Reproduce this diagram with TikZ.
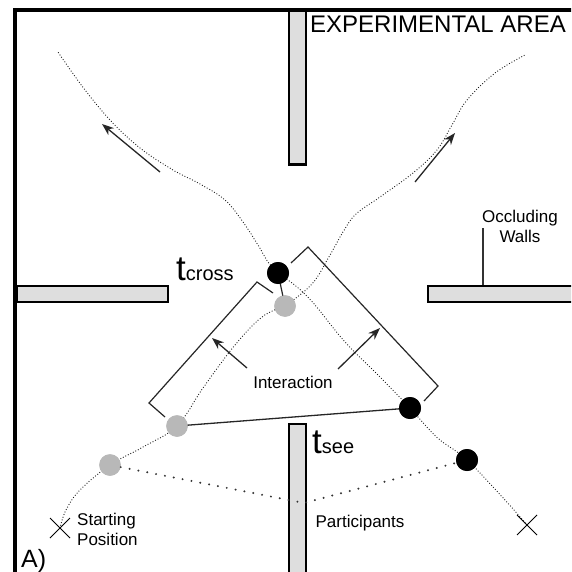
\documentclass[tikz,border=0pt]{standalone}
\usepackage{fontspec}
\setmainfont{Liberation Sans}
\usetikzlibrary{arrows.meta,shapes.misc}
\begin{document}
\begin{tikzpicture}[x=1pt,y=-1pt,
  wallbox/.style={draw=black,line width=2.6pt,fill=black!13,inner sep=0pt,anchor=north west,rectangle},
  traj/.style={black!90,line width=1.25pt,line cap=round,dash pattern=on 0pt off 2.8pt},
  pdots/.style={black!80,line width=2.2pt,line cap=round,dash pattern=on 0pt off 9pt},
  gdot/.style={circle,fill=black!28,minimum size=21.5pt,inner sep=0pt},
  bdot/.style={circle,fill=black,minimum size=22pt,inner sep=0pt},
  xmark/.style={draw=black,cross out,line width=1pt,minimum size=19pt,inner sep=0pt},
  bracketline/.style={black!85,line width=1.2pt},
  movearrow/.style={black!85,line width=1.3pt,-{Stealth[length=12pt,width=9pt]}},
  lbl/.style={inner sep=0pt,font=\fontsize{17}{20}\selectfont}
]
\useasboundingbox (0,0) rectangle (571,572);
\clip (0,0) rectangle (571,572);
% outer border
\draw[line width=4pt] (14.5,590) -- (14.5,10.5) -- (590,10.5);
% walls
\node[wallbox,minimum width=17pt,minimum height=154pt] (tw) at (287.5,9) {};
\node[wallbox,minimum width=151pt,minimum height=16pt] (lw) at (15.5,284.5) {};
\node[wallbox,minimum width=170pt,minimum height=16pt] (rw) at (426.5,284.5) {};
\node[wallbox,minimum width=17pt,minimum height=170pt] (bw) at (287.5,422.5) {};
% dots (positions)
\node[gdot] (g1) at (110,465) {};
\node[gdot] (g2) at (177,426) {};
\node[gdot] (g3) at (285,306) {};
\node[bdot] (b1) at (278,273) {};
\node[bdot] (b2) at (410,408) {};
\node[bdot] (b3) at (467,460) {};
\node[xmark] (x1) at (60,528) {};
\node[xmark] (x2) at (527,525) {};
\coordinate (ge) at (525,55);
\coordinate (be) at (58,52);
% trajectories
\draw[traj] plot[smooth,tension=0.6] coordinates {(x1.center) (66,510) (80,490) (110,465) (143,447) (177,426) (203,388) (235,345) (262,317) (285,306)};
\draw[traj] plot[smooth,tension=0.6] coordinates {(285,306) (312,284) (330,255) (343,232) (356,214) (380,197) (413,173) (437,150) (452,125) (467,100) (495,73) (ge)};
\draw[traj] plot[smooth,tension=0.6] coordinates {(x2.center) (505,500) (467,460) (440,440) (425,425) (410,408) (380,377) (345,342) (315,305) (297,287) (278,273)};
\draw[traj] plot[smooth,tension=0.6] coordinates {(278,273) (268,262) (258,245) (243,222) (225,200) (200,184) (173,170) (140,148) (110,120) (82,86) (be)};
% sight lines
\draw[black!85,line width=1.2pt] (b1.center) -- (g3.center);
\draw[black!85,line width=1.3pt] (g2.center) -- (b2.center);
% redraw dots on top
\node[gdot] at (g1) {};
\node[gdot] at (g2) {};
\node[gdot] at (g3) {};
\node[bdot] at (b1) {};
\node[bdot] at (b2) {};
\node[bdot] at (b3) {};
% interaction brackets
\coordinate (lb1) at (165,417);
\coordinate (lb2) at (149,403);
\coordinate (lb3) at (257,282);
\coordinate (lb4) at (273,293);
\draw[bracketline] (lb1) -- (lb2) -- (lb3) -- (lb4);
\coordinate (rb1) at (291,263);
\coordinate (rb2) at (308,247);
\coordinate (rb3) at (438,386);
\coordinate (rb4) at (424,401);
\draw[bracketline] (rb1) -- (rb2) -- (rb3) -- (rb4);
% movement arrows
\coordinate (ma1) at (160,172);
\coordinate (ma2) at (102,124);
\draw[movearrow] (ma1) -- (ma2);
\coordinate (mb1) at (415,182);
\coordinate (mb2) at (455,133);
\draw[movearrow] (mb1) -- (mb2);
% labels
\node[inner sep=0pt,anchor=base west,font=\fontsize{24}{29}\selectfont] (title) at (310,33) {EXPERIMENTAL AREA};
\node[lbl,align=center,anchor=center] (occ) at (520,226) {Occluding\\Walls};
\coordinate (occl) at (483,228);
\draw[black!80,line width=1.3pt] (occl) -- (occl |- rw.north);
\node[inner sep=0pt,anchor=base west] (tc) at (176,280) {\fontsize{35}{35}\selectfont t\fontsize{20}{20}\selectfont cross};
\node[inner sep=0pt,anchor=base west] (ts) at (312,453) {\fontsize{35}{35}\selectfont t\fontsize{20}{20}\selectfont see};
\node[lbl] (inter) at (293,382) {Interaction};
\coordinate (ia1) at (247,368);
\coordinate (ia2) at (212,338);
\coordinate (ib1) at (338,369);
\coordinate (ib2) at (380,328);
\draw[movearrow] (ia1) -- (ia2);
\draw[movearrow] (ib1) -- (ib2);
\node[lbl] (part) at (360,523) {Participants};
\node[lbl,align=left,anchor=west] (start) at (77,529) {Starting\\Position};
\node[inner sep=0pt,anchor=base west,font=\fontsize{25}{30}\selectfont] (alabel) at (21,567) {A)};
% participant pointers
\coordinate (pv) at (304,503);
\draw[pdots] (g1) -- (pv) -- (b3);
\end{tikzpicture}
\end{document}
